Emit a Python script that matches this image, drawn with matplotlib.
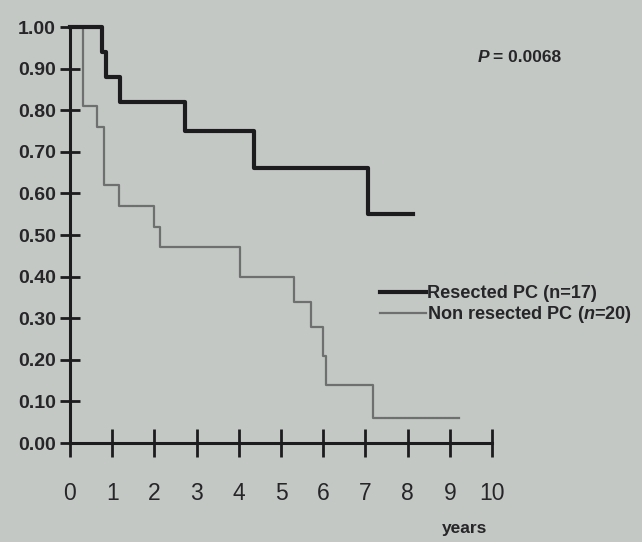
import matplotlib
matplotlib.use("Agg")
import matplotlib.pyplot as plt

# ── palette ──────────────────────────────────────────────────────────────────
BG    = "#c4c8c5"
INK   = "#262628"
DARK  = "#1c1c1e"
GREY  = "#6e706f"

# ── Kaplan-Meier steps (years, survival) ─────────────────────────────────────
resected_t = [0, 0.75, 0.86, 1.18, 2.73, 4.35, 7.05, 8.12]
resected_s = [1.00, 0.94, 0.88, 0.82, 0.75, 0.66, 0.55, 0.55]

nonres_t = [0, 0.30, 0.63, 0.81, 1.17, 2.00, 2.14, 4.02, 5.31, 5.70, 6.00, 6.07, 7.18, 9.22]
nonres_s = [1.00, 0.81, 0.76, 0.62, 0.57, 0.52, 0.47, 0.40, 0.34, 0.28, 0.21, 0.14, 0.06, 0.06]

x_ticks = list(range(0, 11))
y_ticks = [i / 10 for i in range(0, 11)]

FONT = ["Liberation Sans", "DejaVu Sans"]
plt.rcParams["font.family"] = FONT
plt.rcParams["mathtext.fontset"] = "custom"
plt.rcParams["mathtext.it"] = "Liberation Sans:italic:bold"

fig = plt.figure(figsize=(6.42, 5.42), dpi=100)
fig.patch.set_facecolor(BG)
ax = fig.add_axes([70 / 642, 1 - 443 / 542, 422 / 642, 416 / 542])
ax.set_facecolor(BG)

ax.step(resected_t, resected_s, where="post", color=DARK, lw=3.0,
        clip_on=False, label="Resected PC (n=17)", zorder=3)
ax.step(nonres_t, nonres_s, where="post", color=GREY, lw=1.6,
        clip_on=False, label="Non resected PC ($\\it{n}$=20)", zorder=2)

ax.set_xlim(0, 10)
ax.set_ylim(0, 1)
for side in ("top", "right"):
    ax.spines[side].set_visible(False)
for side in ("left", "bottom"):
    ax.spines[side].set_linewidth(2.2)
    ax.spines[side].set_color(DARK)

ax.set_yticks(y_ticks)
ax.set_yticklabels([f"{v:.2f}" for v in y_ticks], fontsize=14,
                   fontweight="bold", color=INK)
ax.set_xticks(x_ticks)
ax.set_xticklabels([str(v) for v in x_ticks], fontsize=16.5, color=INK)
ax.tick_params(axis="y", direction="inout", length=14, width=2, color=DARK, pad=3)
ax.tick_params(axis="x", direction="inout", length=20, width=2, color=DARK, pad=18)

fig.text(465 / 642, 1 - 529 / 542, "years", fontsize=12.5, fontweight="bold",
         color=INK, ha="center", va="center")

fig.text(478 / 642, 1 - 58 / 542, "P", fontsize=12.5, fontweight="bold",
         fontstyle="italic", color=INK, ha="left", va="center")
fig.text(493 / 642, 1 - 58 / 542, "= 0.0068", fontsize=12.5, fontweight="bold",
         color=INK, ha="left", va="center")

leg = fig.legend(loc="upper left", bbox_to_anchor=(373 / 642, 1 - 278 / 542),
                 frameon=False, handlelength=2.5, handletextpad=0.05,
                 labelspacing=0.1, borderaxespad=0, fontsize=13.1,
                 labelcolor=INK)
for t in leg.get_texts():
    t.set_fontweight("bold")

fig.savefig("out.png", dpi=100, facecolor=BG)
